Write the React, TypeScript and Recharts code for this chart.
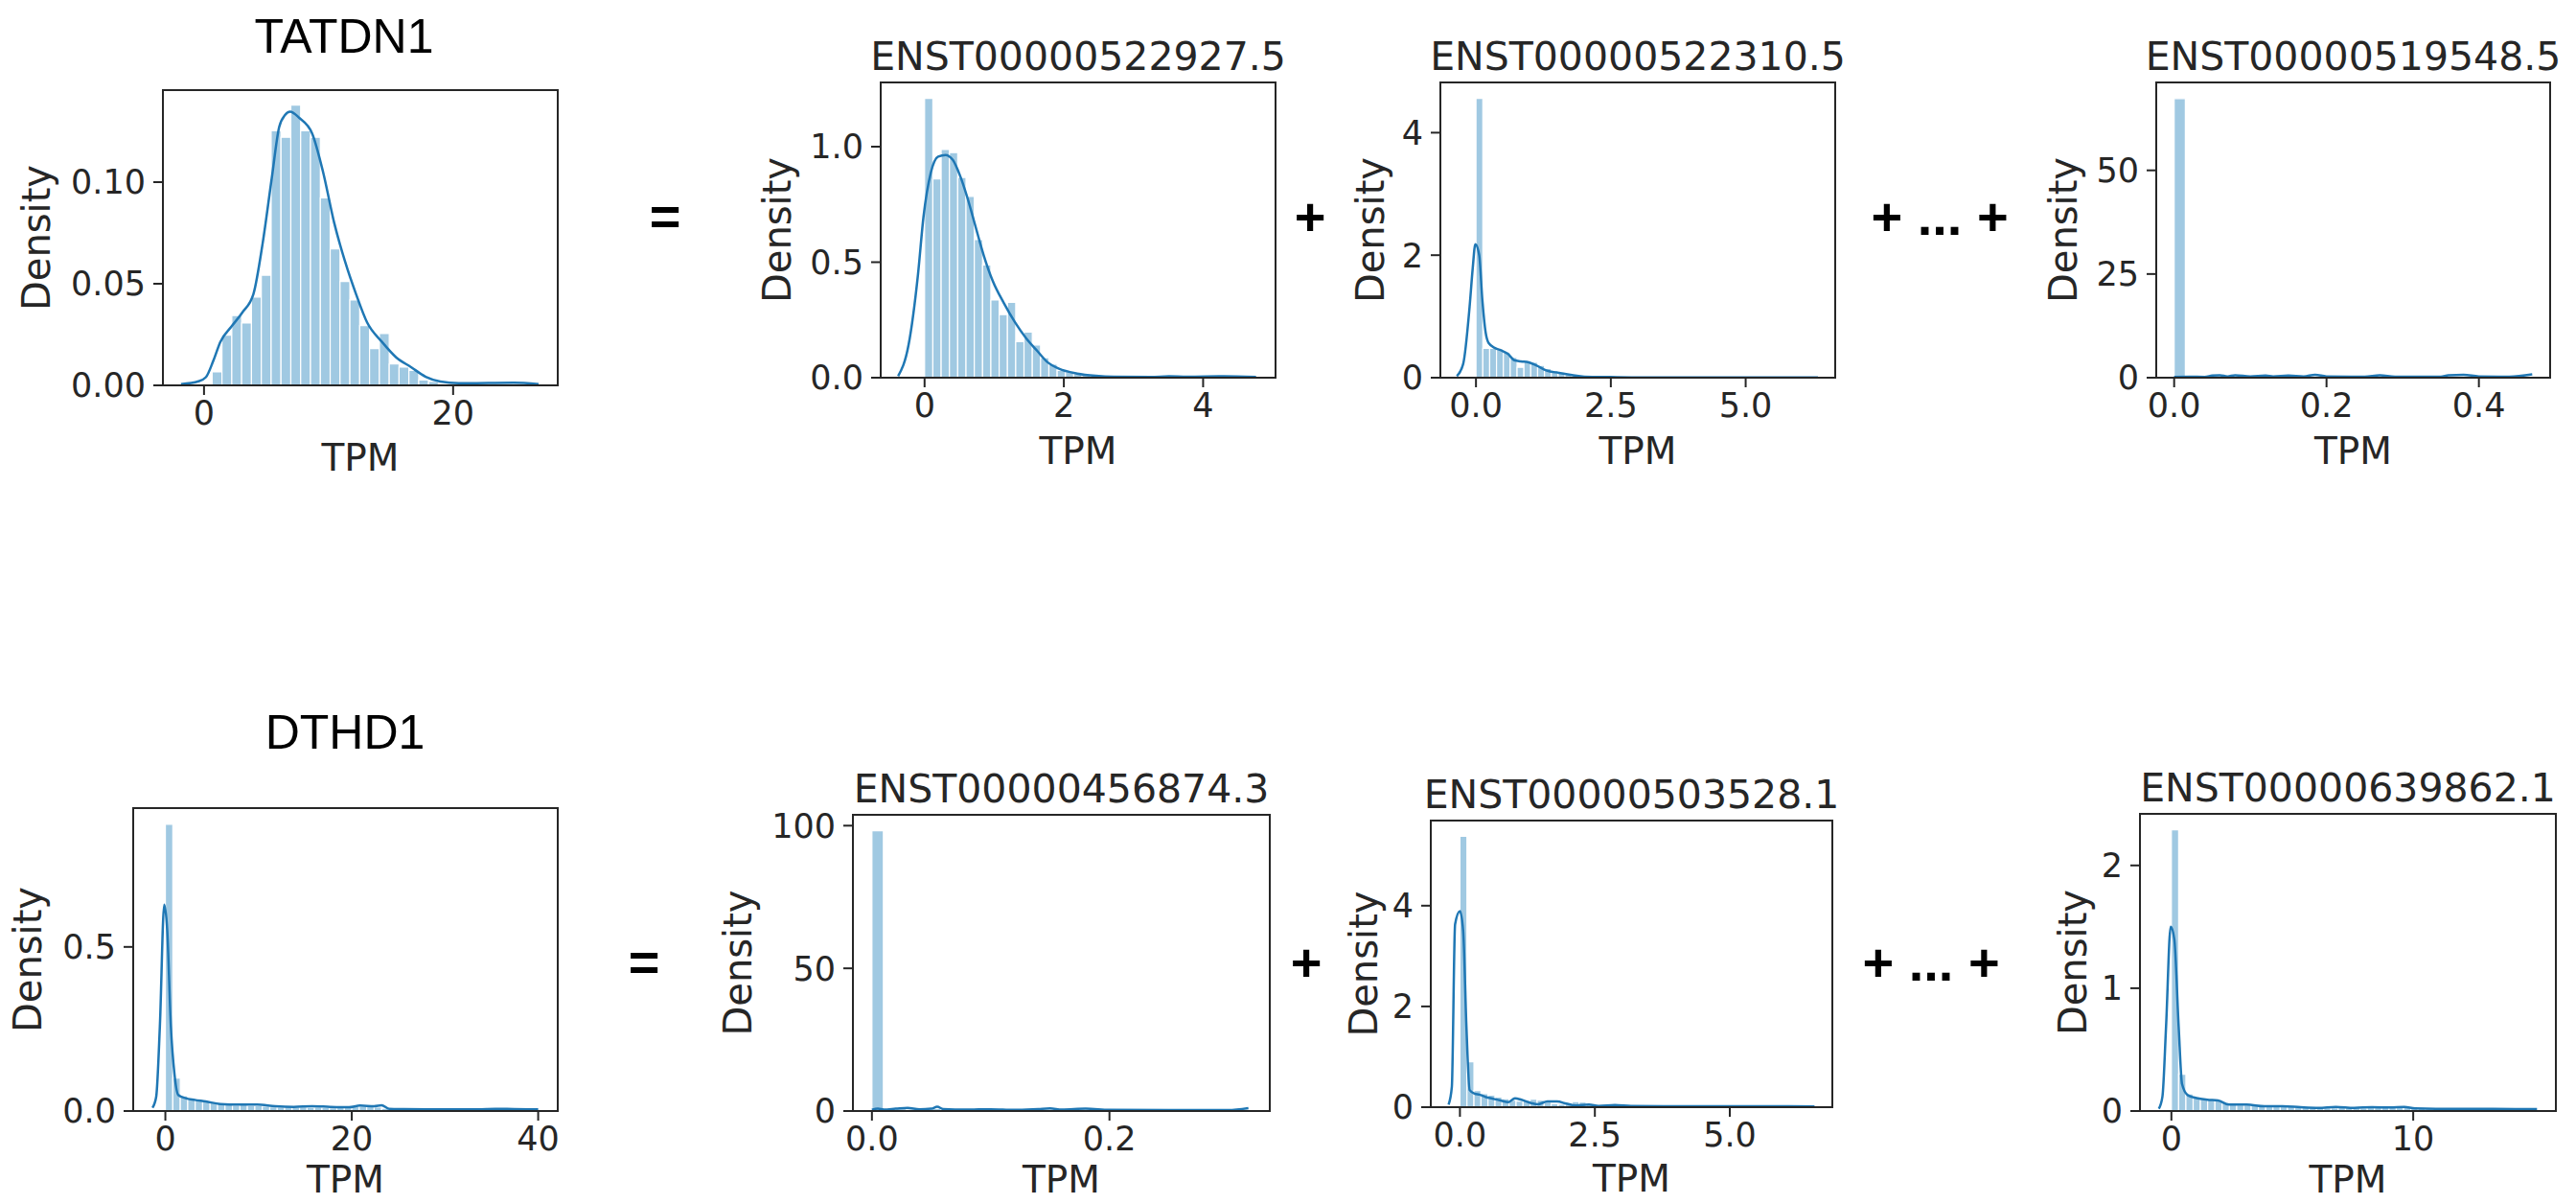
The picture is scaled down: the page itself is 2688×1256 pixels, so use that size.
import { ComposedChart, Line, XAxis, YAxis, ReferenceArea } from "recharts";

const FONT = "DejaVu Sans, sans-serif";
const HEAD_FONT = "Liberation Sans, Arial, sans-serif";
const INK = "#262626";
const HIST = "#a0c9e2";
const KDE = "#1f77b4";

// ---- TATDN1 ----
const tatdn1Heights = [0.0066, 0.0247, 0.0344, 0.0307, 0.0435, 0.0542, 0.1253, 0.1221, 0.1379, 0.1253, 0.1221, 0.0923, 0.0671, 0.0511, 0.042, 0.0294, 0.0181, 0.0255, 0.0105, 0.009, 0.0074, 0.0027, 0.0019, 0.0008, 0.0004, 0.0008, 0.0004, 0, 0.0008, 0.0004, 0.0004];
const tatdn1Kde: [number, number][] = [[-1.85, 0.0006], [-0.44, 0.002], [0.15, 0.004], [0.74, 0.012], [1.32, 0.0215], [2.21, 0.029], [3.09, 0.036], [3.97, 0.045], [4.71, 0.07], [5.44, 0.102], [6.03, 0.127], [6.5, 0.133], [6.91, 0.1347], [7.65, 0.1316], [8.68, 0.124], [9.56, 0.105], [10.45, 0.08], [11.32, 0.061], [12.2, 0.045], [13.09, 0.031], [14.27, 0.0215], [15.44, 0.0137], [16.62, 0.009], [17.8, 0.0042], [18.97, 0.0019], [20.45, 0.0011], [21.9, 0.0011], [24.86, 0.0013], [26.86, 0.0006]];

// ---- ENST00000522927.5 ----
const e522927Heights = [1.209, 0.86, 0.988, 0.974, 0.867, 0.785, 0.598, 0.488, 0.336, 0.273, 0.326, 0.156, 0.198, 0.142, 0.087, 0.059, 0.032, 0.025, 0.018, 0.011, 0.008, 0.006, 0.004, 0.004, 0.003, 0, 0.003, 0, 0.003, 0.004, 0.006, 0.003, 0, 0.003, 0, 0, 0.003, 0.004, 0.006, 0.003];
const e522927Kde: [number, number][] = [[-0.38, 0.007], [-0.23, 0.142], [-0.095, 0.446], [-0.016, 0.695], [0.09, 0.888], [0.195, 0.957], [0.3, 0.964], [0.405, 0.943], [0.51, 0.874], [0.616, 0.778], [0.72, 0.667], [0.85, 0.529], [0.98, 0.418], [1.14, 0.322], [1.3, 0.239], [1.46, 0.17], [1.62, 0.115], [1.77, 0.066], [1.93, 0.039], [2.19, 0.018], [2.46, 0.008], [2.72, 0.004], [3.25, 0.003], [3.51, 0.006], [3.77, 0.004], [4.3, 0.006], [4.76, 0.003]];

// ---- ENST00000522310.5 ----
const e522310Heights = [4.56, 0.48, 0.48, 0.46, 0.41, 0.33, 0.17, 0.27, 0.25, 0.2, 0.15, 0.12, 0.09, 0.07, 0.04, 0.026, 0.02, 0.015, 0.012, 0.01, 0.008, 0.006, 0.005, 0.005, 0.004, 0.004, 0.005, 0.004, 0.003, 0.004, 0.005, 0.004, 0.003, 0.004, 0.004, 0.003, 0.004, 0.005, 0.004, 0.003, 0.004, 0.003, 0.004, 0.004, 0.003, 0.004, 0.003, 0.003, 0.004, 0.003];
const e522310Kde: [number, number][] = [[-0.355, 0.026], [-0.237, 0.224], [-0.118, 1.16], [-0.06, 1.79], [-0.012, 2.18], [0.06, 2.0], [0.118, 1.27], [0.178, 0.745], [0.237, 0.563], [0.355, 0.484], [0.474, 0.443], [0.59, 0.39], [0.71, 0.286], [0.83, 0.266], [0.977, 0.25], [1.125, 0.198], [1.3, 0.12], [1.54, 0.078], [1.78, 0.042], [2.01, 0.016], [2.49, 0.01], [3.08, 0.005], [4.26, 0.005], [5.45, 0.005], [6.34, 0.005]];

// ---- ENST00000519548.5 ----
const e519548Heights = [67.3, 0.2, 0, 0.3, 0.3, 0.2, 0.3, 0, 0.3, 0, 0.3, 0, 0.2, 0.3, 0, 0.2, 0, 0.3, 0, 0, 0.2, 0, 0, 0, 0.2, 0.3, 0.3, 0, 0, 0.2, 0.2, 0.3];
const e519548Kde: [number, number][] = [[0, 0.2], [0.02, 0.25], [0.04, 0.2], [0.05, 0.5], [0.06, 0.6], [0.07, 0.3], [0.08, 0.6], [0.1, 0.3], [0.12, 0.5], [0.13, 0.3], [0.15, 0.5], [0.17, 0.3], [0.185, 0.7], [0.2, 0.3], [0.25, 0.25], [0.27, 0.6], [0.29, 0.25], [0.35, 0.25], [0.36, 0.6], [0.38, 0.7], [0.4, 0.3], [0.44, 0.25], [0.47, 0.8]];

// ---- DTHD1 ----
const dthd1Heights = [0.874, 0.1, 0.046, 0.039, 0.034, 0.03, 0.025, 0.022, 0.02, 0.018, 0.019, 0.017, 0.016, 0.015, 0.013, 0.012, 0.014, 0.012, 0.013, 0.011, 0.012, 0.011, 0.01, 0.011, 0.012, 0.014, 0.015, 0.016, 0.012, 0.008, 0.004, 0.003, 0.003, 0.002, 0.003, 0.002, 0.002, 0.003, 0.002, 0.002, 0.002, 0.003, 0.002, 0.002, 0.003, 0.003, 0.004, 0.003, 0.002, 0.004];
const dthd1Kde: [number, number][] = [[-1.38, 0.01], [-0.98, 0.044], [-0.59, 0.258], [-0.12, 0.629], [0.2, 0.551], [0.59, 0.258], [0.98, 0.112], [1.38, 0.049], [2.17, 0.039], [3.15, 0.034], [4.33, 0.029], [5.9, 0.0214], [7.87, 0.0195], [9.84, 0.0195], [11.8, 0.0146], [13.78, 0.0127], [15.75, 0.0146], [17.7, 0.0127], [19.7, 0.0117], [20.9, 0.0166], [22.4, 0.0146], [23.2, 0.0175], [24, 0.0068], [25.6, 0.0058], [29.5, 0.0049], [33.5, 0.0049], [35.4, 0.0068], [37.4, 0.0058], [40, 0.0049]];

// ---- ENST00000456874.3 ----
const e456874Heights = [98.2, 0.6, 0.8, 0.6, 0.5, 0.9, 0.4, 0.3, 0.5, 0.2, 0.3, 0.4, 0.2, 0.3, 0.3, 0.4, 0.5, 0.3, 0.2, 0.3, 0.2, 0.1, 0.2, 0.2, 0.1, 0.2, 0.1, 0.1, 0.2, 0.1, 0.1, 0.1, 0.3];
const e456874Kde: [number, number][] = [[0, 0.4], [0.005, 0.8], [0.01, 0.5], [0.02, 0.8], [0.03, 1.1], [0.04, 0.6], [0.05, 0.8], [0.055, 1.5], [0.06, 0.7], [0.08, 0.5], [0.1, 0.6], [0.12, 0.4], [0.14, 0.7], [0.15, 0.9], [0.16, 0.5], [0.18, 0.8], [0.2, 0.4], [0.25, 0.3], [0.3, 0.3], [0.317, 1.0]];

// ---- ENST00000503528.1 ----
const e503528Heights = [5.38, 0.9, 0.33, 0.27, 0.24, 0.2, 0.17, 0.14, 0.12, 0.13, 0.16, 0.14, 0.1, 0.07, 0.06, 0.09, 0.11, 0.1, 0.07, 0.04, 0.03, 0.04, 0.03, 0.02, 0.03, 0.02, 0.02, 0.02, 0.015, 0.015, 0.015, 0.01, 0.015, 0.01, 0.015, 0.01, 0.01, 0.015, 0.01, 0.01, 0.01, 0.005, 0.01, 0.01, 0.005, 0.01, 0.005, 0.005, 0.01, 0.005];
const e503528Kde: [number, number][] = [[-0.21, 0.05], [-0.15, 0.4], [-0.09, 3.63], [0, 3.89], [0.06, 3.5], [0.12, 1.6], [0.18, 0.34], [0.27, 0.27], [0.36, 0.25], [0.48, 0.2], [0.6, 0.17], [0.75, 0.133], [0.9, 0.1], [1.02, 0.178], [1.14, 0.146], [1.32, 0.082], [1.44, 0.057], [1.62, 0.114], [1.8, 0.114], [1.97, 0.07], [2.15, 0.032], [2.39, 0.05], [2.57, 0.025], [2.87, 0.044], [3.17, 0.025], [3.77, 0.019], [4.37, 0.019], [4.97, 0.019], [5.86, 0.019], [6.57, 0.013]];

// ---- ENST00000639862.1 ----
const e639862Heights = [2.29, 0.3, 0.14, 0.11, 0.1, 0.09, 0.09, 0.07, 0.06, 0.05, 0.05, 0.05, 0.045, 0.04, 0.04, 0.035, 0.035, 0.03, 0.03, 0.03, 0.028, 0.027, 0.027, 0.03, 0.03, 0.028, 0.025, 0.03, 0.03, 0.03, 0.028, 0.032, 0.03, 0.03, 0.02, 0.018, 0.018, 0.016, 0.015, 0.015, 0.015, 0.016, 0.015, 0.015, 0.014, 0.014, 0.014, 0.013, 0.014, 0.014];
const e639862Kde: [number, number][] = [[-0.52, 0.018], [-0.37, 0.118], [-0.22, 0.69], [-0.03, 1.5], [0.12, 1.4], [0.3, 0.69], [0.44, 0.22], [0.67, 0.13], [1.04, 0.105], [1.48, 0.092], [1.93, 0.086], [2.37, 0.052], [3.11, 0.052], [3.85, 0.039], [4.6, 0.039], [5.34, 0.031], [6.08, 0.026], [6.8, 0.034], [7.56, 0.026], [8.3, 0.031], [9.04, 0.029], [9.63, 0.034], [10.08, 0.021], [11.26, 0.018], [12.75, 0.018], [14.23, 0.016], [15.12, 0.016]];

type Box = { x: number; y: number; w: number; h: number };
type PanelSpec = {
  title: string;
  box: Box;
  xDomain: [number, number];
  yDomain: [number, number];
  xTicks: number[];
  yTicks: number[];
  xDec: number;
  yDec: number;
  binStart: number;
  binWidth: number;
  heights: number[];
  kde: [number, number][];
  densityDx: number;
  tpmDy: number;
};

const panels: PanelSpec[] = [
  { title: "", box: { x: 170, y: 94, w: 412, h: 308 }, xDomain: [-3.3, 28.4], yDomain: [0, 0.1453], xTicks: [0, 20], yTicks: [0, 0.05, 0.1], xDec: 0, yDec: 2, binStart: 0.65, binWidth: 0.79, heights: tatdn1Heights, kde: tatdn1Kde, densityDx: -132, tpmDy: 89 },
  { title: "ENST00000522927.5", box: { x: 919, y: 86, w: 412, h: 308 }, xDomain: [-0.63, 5.04], yDomain: [0, 1.278], xTicks: [0, 2, 4], yTicks: [0, 0.5, 1.0], xDec: 0, yDec: 1, binStart: 0, binWidth: 0.119, heights: e522927Heights, kde: e522927Kde, densityDx: -108, tpmDy: 90 },
  { title: "ENST00000522310.5", box: { x: 1503, y: 86, w: 412, h: 308 }, xDomain: [-0.66, 6.66], yDomain: [0, 4.82], xTicks: [0, 2.5, 5.0], yTicks: [0, 2, 4], xDec: 1, yDec: 0, binStart: 0, binWidth: 0.127, heights: e522310Heights, kde: e522310Kde, densityDx: -73, tpmDy: 90 },
  { title: "ENST00000519548.5", box: { x: 2250, y: 86, w: 411, h: 308 }, xDomain: [-0.0235, 0.4935], yDomain: [0, 71.2], xTicks: [0, 0.2, 0.4], yTicks: [0, 25, 50], xDec: 1, yDec: 0, binStart: 0, binWidth: 0.0147, heights: e519548Heights, kde: e519548Kde, densityDx: -97, tpmDy: 90 },
  { title: "", box: { x: 139, y: 843, w: 443, h: 316 }, xDomain: [-3.45, 42.1], yDomain: [0, 0.923], xTicks: [0, 20, 40], yTicks: [0, 0.5], xDec: 0, yDec: 1, binStart: 0, binWidth: 0.8, heights: dthd1Heights, kde: dthd1Kde, densityDx: -110, tpmDy: 85 },
  { title: "ENST00000456874.3", box: { x: 890, y: 850, w: 435, h: 309 }, xDomain: [-0.016, 0.335], yDomain: [0, 103.8], xTicks: [0, 0.2], yTicks: [0, 50, 100], xDec: 1, yDec: 0, binStart: 0, binWidth: 0.00967, heights: e456874Heights, kde: e456874Kde, densityDx: -120, tpmDy: 85 },
  { title: "ENST00000503528.1", box: { x: 1493, y: 856, w: 419, h: 299 }, xDomain: [-0.54, 6.9], yDomain: [0, 5.69], xTicks: [0, 2.5, 5.0], yTicks: [0, 2, 4], xDec: 1, yDec: 0, binStart: 0, binWidth: 0.13, heights: e503528Heights, kde: e503528Kde, densityDx: -70, tpmDy: 88 },
  { title: "ENST00000639862.1", box: { x: 2233, y: 849, w: 434, h: 310 }, xDomain: [-1.3, 15.9], yDomain: [0, 2.42], xTicks: [0, 10], yTicks: [0, 1, 2], xDec: 0, yDec: 0, binStart: 0, binWidth: 0.3, heights: e639862Heights, kde: e639862Kde, densityDx: -70, tpmDy: 85 },
];

const genes = [
  { name: "TATDN1", x: 359, y: 55 },
  { name: "DTHD1", x: 360, y: 781 },
];

const operators = [
  { text: "=", x: 694, y: 225 },
  { text: "+", x: 1367, y: 225 },
  { text: "+ ... +", x: 2024, y: 225 },
  { text: "=", x: 672, y: 1003 },
  { text: "+", x: 1363, y: 1003 },
  { text: "+ ... +", x: 2015, y: 1003 },
];

const PAD_L = 160;
const PAD_T = 12;
const PAD_R = 12;
const DESC = 11; // room below the TPM baseline for descenders

function Panel({ p }: { p: PanelSpec }) {
  const padB = p.tpmDy + DESC;
  const bars = p.heights
    .map((h, i) => ({ x1: p.binStart + i * p.binWidth, x2: p.binStart + (i + 1) * p.binWidth, h }))
    .filter((b) => b.h > 0);
  const kde = p.kde.map(([x, y]) => ({ x, y }));
  const tickStyle = { fill: INK, fontSize: 35, fontFamily: FONT };
  return (
    <div style={{ position: "absolute", left: p.box.x - PAD_L, top: p.box.y - PAD_T }}>
      <ComposedChart
        width={p.box.w + PAD_L + PAD_R}
        height={p.box.h + PAD_T + padB}
        margin={{ top: PAD_T, right: PAD_R, bottom: 0, left: 0 }}
      >
        <XAxis
          type="number"
          dataKey="x"
          domain={p.xDomain}
          ticks={p.xTicks}
          allowDataOverflow
          interval={0}
          height={padB}
          tickSize={10}
          tickMargin={6}
          axisLine={{ stroke: INK, strokeWidth: 2 }}
          tickLine={{ stroke: INK, strokeWidth: 2 }}
          tick={tickStyle}
          tickFormatter={(v: number) => v.toFixed(p.xDec)}
          label={{ value: "TPM", position: "insideBottom", offset: DESC, fill: INK, fontSize: 39, fontFamily: FONT }}
        />
        <YAxis
          type="number"
          domain={p.yDomain}
          ticks={p.yTicks}
          allowDataOverflow
          interval={0}
          width={PAD_L}
          tickSize={10}
          tickMargin={8}
          axisLine={{ stroke: INK, strokeWidth: 2 }}
          tickLine={{ stroke: INK, strokeWidth: 2 }}
          tick={tickStyle}
          tickFormatter={(v: number) => v.toFixed(p.yDec)}
          label={{ value: "Density", angle: -90, position: "insideLeft", offset: PAD_L + p.densityDx, fill: INK, fontSize: 40, fontFamily: FONT, style: { textAnchor: "middle" } }}
        />
        {bars.map((b, i) => (
          <ReferenceArea key={i} x1={b.x1} x2={b.x2} y1={0} y2={b.h} fill={HIST} fillOpacity={1} stroke="#ffffff" strokeWidth={1.2} ifOverflow="visible" />
        ))}
        <Line data={kde} dataKey="y" type="monotone" stroke={KDE} strokeWidth={2.5} dot={false} isAnimationActive={false} />
        <ReferenceArea x1={p.xDomain[0]} x2={p.xDomain[1]} y1={p.yDomain[0]} y2={p.yDomain[1]} fill="none" fillOpacity={0} stroke={INK} strokeWidth={2} ifOverflow="visible" />
      </ComposedChart>
    </div>
  );
}

export default function App() {
  return (
    <div style={{ position: "absolute", left: 0, top: 0, width: 2688, height: 1256, background: "#fff", overflow: "hidden" }}>
      {panels.map((p, i) => (
        <Panel key={i} p={p} />
      ))}
      <svg width={2688} height={1256} style={{ position: "absolute", left: 0, top: 0, pointerEvents: "none" }}>
        {genes.map((g) => (
          <text key={g.name} x={g.x} y={g.y} textAnchor="middle" fontFamily={HEAD_FONT} fontSize={50} fill="#000">
            {g.name}
          </text>
        ))}
        {panels
          .filter((p) => p.title)
          .map((p) => (
            <text key={p.title} x={p.box.x + p.box.w / 2} y={p.box.y - 13} textAnchor="middle" fontFamily={FONT} fontSize={41} fill={INK}>
              {p.title}
            </text>
          ))}
        {operators.map((o, i) => (
          <text key={i} x={o.x} y={o.y + 20} textAnchor="middle" fontFamily={HEAD_FONT} fontWeight="bold" fontSize={56} fill="#000" style={{ whiteSpace: "pre" }}>
            {o.text}
          </text>
        ))}
      </svg>
    </div>
  );
}
